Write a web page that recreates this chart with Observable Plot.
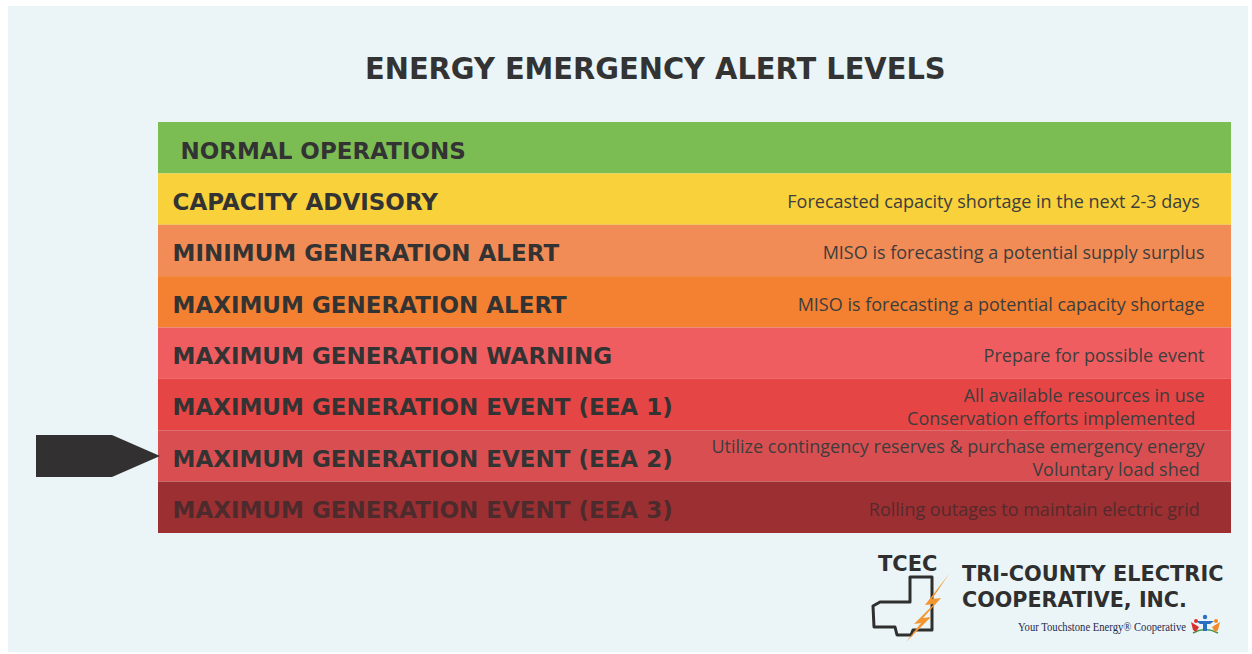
<!DOCTYPE html>
<html>
<head>
<meta charset="utf-8">
<script src="https://cdn.jsdelivr.net/npm/d3@7"></script>
<script src="https://cdn.jsdelivr.net/npm/@observablehq/plot@0.6"></script>
<style>
  html, body { margin: 0; padding: 0; background: #ffffff; }
  #wrap { position: relative; width: 1252px; height: 654px; overflow: hidden; background: #ffffff; }
  #panel { position: absolute; left: 8px; top: 6px; width: 1240px; height: 646px; background: #ebf4f6; }
  #title { position: absolute; left: 0; top: 0; }
  #chart { position: absolute; left: 0; top: 0; }
  #logo { position: absolute; left: 0; top: 0; }
</style>
</head>
<body>
<div id="wrap">
  <div id="panel"></div>
  <svg id="title" width="1252" height="110">
    <text transform="translate(365,79) scale(0.963,1)"
      font-family="DejaVu Sans" font-weight="bold" font-size="30" fill="#333333">ENERGY EMERGENCY ALERT LEVELS</text>
  </svg>
  <div id="chart"></div>
  <svg id="logo" width="1252" height="654">
    <text x="878" y="571" font-family="DejaVu Sans" font-weight="bold" font-size="21" fill="#2f2f2f">TCEC</text>
    <path d="M910,577 L932,577 L932,630 L913,630 L911,635 L897,635 L895,627 L874,627 L873,606 L880,602 L910,602 Z"
      fill="none" stroke="#2f2f2f" stroke-width="3" stroke-linejoin="round"/>
    <polygon points="949,574 925,605 934,604 914,624 921,623 906,642 931,617 923,618 941,598 932,599" fill="#f3962f"/>
    <text transform="translate(962,581) scale(0.95,1)" font-family="DejaVu Sans" font-weight="bold" font-size="22" fill="#2f2f2f">TRI-COUNTY ELECTRIC</text>
    <text transform="translate(962,607) scale(0.94,1)" font-family="DejaVu Sans" font-weight="bold" font-size="22" fill="#2f2f2f">COOPERATIVE, INC.</text>
    <text x="1018" y="631" textLength="168" lengthAdjust="spacingAndGlyphs" font-family="Liberation Serif" font-size="11.5" fill="#1f2b4d">Your Touchstone Energy® Cooperative</text>
    <g>
      <path d="M1193,633 Q1205,626 1218,633" fill="none" stroke="#3a9a4a" stroke-width="1.5"/>
      <circle cx="1205" cy="617" r="2.2" fill="#2a6fc0"/>
      <path d="M1196,621 L1214,621 L1210,624 L1207,624 L1207,631 L1203,631 L1203,624 L1200,624 Z" fill="#2a6fc0"/>
      <circle cx="1196" cy="621" r="2" fill="#d8312f"/>
      <path d="M1191,622 L1199,627 L1196,632 L1193,630 Z" fill="#d8312f"/>
      <circle cx="1216" cy="621" r="2" fill="#f08a2a"/>
      <path d="M1220,622 L1212,627 L1215,632 L1218,630 Z" fill="#f08a2a"/>
    </g>
  </svg>
</div>
<script>
// Alert levels, top (normal) to bottom (most severe)
const levels = [
  "NORMAL OPERATIONS",
  "CAPACITY ADVISORY",
  "MINIMUM GENERATION ALERT",
  "MAXIMUM GENERATION ALERT",
  "MAXIMUM GENERATION WARNING",
  "MAXIMUM GENERATION EVENT (EEA 1)",
  "MAXIMUM GENERATION EVENT (EEA 2)",
  "MAXIMUM GENERATION EVENT (EEA 3)"
];
const descriptions = [
  "",
  "Forecasted capacity shortage in the next 2-3 days\u00a0",
  "MISO is forecasting a potential supply surplus",
  "MISO is forecasting a potential capacity shortage",
  "Prepare for possible event",
  "All available resources in use\nConservation efforts implemented\u00a0\u00a0",
  "Utilize contingency reserves & purchase emergency energy\nVoluntary load shed\u00a0",
  "Rolling outages to maintain electric grid\u00a0"
];
const bandColors = ["#7cbd53", "#f8d13b", "#f28c56", "#f38131", "#f05d60", "#e54545", "#d94f51", "#9c2f32"];
const textColors = ["#333333", "#333333", "#333333", "#333333", "#333333", "#333333", "#333333", "#4d2b2d"];
const descColors = ["#3d3d3d", "#3d3d3d", "#3d3d3d", "#3d3d3d", "#3d3d3d", "#3d3d3d", "#3d3d3d", "#542a2c"];
const currentLevel = "MAXIMUM GENERATION EVENT (EEA 2)";

const rows = levels.map((level, i) => ({
  level,
  description: descriptions[i],
  band: bandColors[i],
  ink: textColors[i],
  descInk: descColors[i],
  indent: i === 0 ? 22 : 14
}));

const W = 1252, H = 654;
const plot = Plot.plot({
  width: W,
  height: H,
  marginLeft: 158,
  marginRight: 21,
  marginTop: 122,
  marginBottom: 121,
  x: { domain: [0, 1], axis: null },
  y: { domain: levels, axis: null, padding: 0, round: false },
  style: { background: "transparent", overflow: "visible" },
  marks: [
    Plot.barX(rows, { x1: 0, x2: 1, y: "level", fill: "band" }),
    Plot.text(rows.filter(d => d.indent === 22), {
      x: 0, y: "level", text: "level", textAnchor: "start", dx: 22, dy: 3,
      fill: "ink", fontFamily: "DejaVu Sans", fontWeight: "bold", fontSize: 23
    }),
    Plot.text(rows.filter(d => d.indent === 14), {
      x: 0, y: "level", text: "level", textAnchor: "start", dx: 14, dy: 3,
      fill: "ink", fontFamily: "DejaVu Sans", fontWeight: "bold", fontSize: 23
    }),
    Plot.text(rows.filter(d => d.description), {
      x: 1, y: "level", text: "description", textAnchor: "end", dx: -27, dy: 1,
      lineHeight: 1.28, fill: "descInk", fontFamily: "Open Sans", fontSize: 18
    })
  ]
});
document.getElementById("chart").appendChild(plot);

// Pointer arrow marking the current level, positioned with the y scale
const ys = plot.scale("y");
const yc = ys.apply(currentLevel) + ys.bandwidth / 2;
const xs = plot.scale("x");
const tip = xs.apply(0) + 2;
d3.select(plot).append("path")
  .attr("d", `M36,${yc - 21} L112,${yc - 21} L${tip},${yc} L112,${yc + 21} L36,${yc + 21} Z`)
  .attr("fill", "#333031");
</script>
</body>
</html>
